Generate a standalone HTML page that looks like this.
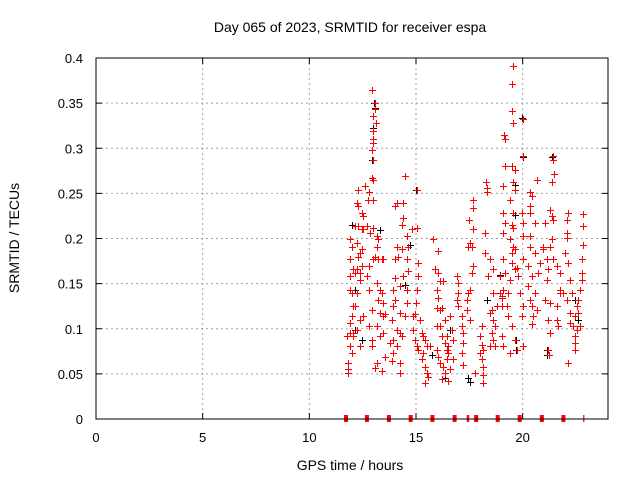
<!DOCTYPE html>
<html><head><meta charset="utf-8"><style>
body{margin:0;background:#fff;}
svg{display:block;font-family:"Liberation Sans",sans-serif;}
</style></head><body>
<svg id="chart" width="640" height="480" viewBox="0 0 640 480">
<rect width="640" height="480" fill="#fff"/>
<g id="grid"></g><g id="ticks"></g><g id="black"></g><g id="red"></g><g id="base"></g>
<rect x="96" y="58" width="512" height="361" fill="none" stroke="#000" stroke-width="1"/>
<text x="350" y="32" font-size="14" text-anchor="middle">Day 065 of 2023, SRMTID for receiver espa</text>
<text x="350" y="470" font-size="14" text-anchor="middle">GPS time / hours</text>
<text x="19" y="238" font-size="14" text-anchor="middle" transform="rotate(-90 19 238)">SRMTID / TECUs</text>
</svg>
<script>
const xTicks=[0,5,10,15,20];
const yTicks=[0,0.05,0.1,0.15,0.2,0.25,0.3,0.35,0.4];
const yTickLabels=["0","0.05","0.1","0.15","0.2","0.25","0.3","0.35","0.4"];
const redHours=[11.83,11.83,11.83,11.75,11.91,11.99,11.91,12.06,11.91,11.99,12.06,12.14,11.91,11.99,12.22,12.38,12.38,11.91,11.91,12.06,12.14,12.22,12.45,11.91,11.99,12.22,12.30,12.38,12.45,12.14,12.30,12.22,12.30,12.45,12.53,12.30,12.61,12.45,12.53,12.69,12.38,12.53,12.38,12.22,12.06,
12.92,13.08,13.08,12.97,13.13,13.0,12.97,13.0,12.94,13.0,12.92,13.0,12.81,12.97,12.77,12.84,13.0,13.16,13.24,12.81,12.97,13.08,13.24,13.16,13.39,13.47,13.16,13.31,13.39,13.24,13.47,13.31,13.47,13.55,13.16,13.31,13.47,12.92,12.81,12.92,12.92,13.16,13.08,13.39,13.55,12.69,12.81,
14.09,14.41,14.02,14.49,14.41,14.33,14.56,14.64,14.09,14.33,14.17,14.56,14.02,14.64,14.41,14.02,13.94,14.25,14.56,14.02,13.94,14.25,14.56,14.49,13.86,14.09,14.25,14.33,13.94,13.78,14.09,13.94,13.86,14.25,14.25,14.80,15.06,15.06,15.11,15.11,15.06,15.0,14.95,14.88,
14.88,14.95,15.03,15.11,15.19,15.27,15.34,15.42,15.5,15.34,15.27,15.42,15.5,15.58,15.42,15.66,15.81,16.05,15.89,16.05,16.13,15.97,16.05,15.97,16.13,16.2,15.97,16.13,16.2,15.97,16.05,16.13,16.28,16.36,16.2,16.36,16.44,16.52,16.52,16.44,16.44,16.6,16.36,16.28,
16.67,16.75,16.75,16.6,16.52,16.91,16.99,16.99,16.91,16.99,17.14,17.14,17.22,17.22,17.14,17.22,17.38,17.38,17.53,17.45,17.53,17.61,17.69,17.53,17.61,17.45,17.5,17.69,17.69,17.69,17.77,18.08,18.0,18.08,18.0,18.08,18.16,
18.16,18.16,18.16,18.24,18.24,18.31,18.31,18.28,18.47,18.63,18.39,18.55,18.47,18.63,18.7,18.55,18.63,18.47,18.7,18.78,18.94,19.02,19.1,18.94,19.1,19.17,19.02,19.02,19.1,19.02,18.63,
19.13,19.17,19.17,19.1,19.1,19.17,19.1,19.41,19.53,19.52,19.52,19.53,19.49,19.64,19.56,19.64,19.56,19.49,19.56,19.41,19.56,19.64,19.49,19.49,19.64,19.41,19.33,19.25,19.33,19.49,19.64,19.41,19.72,19.8,19.72,19.95,20.0,20.0,20.0,20.03,20.03,19.88,20.03,19.95,20.03,
20.35,20.42,20.35,20.35,20.66,20.58,20.35,20.35,20.58,20.81,20.27,20.42,20.27,20.58,20.35,20.42,20.66,20.5,20.42,20.74,20.97,21.13,21.05,21.2,21.13,21.05,21.28,21.2,21.28,21.2,21.25,20.97,
21.44,21.44,21.47,21.36,21.44,21.28,21.36,21.36,21.28,21.44,21.6,21.75,21.6,21.75,21.6,21.67,21.75,22.06,22.06,22.14,22.1,21.99,22.14,22.22,22.06,22.22,22.22,22.38,22.45,22.45,22.45,22.14,21.91,22.3,
22.84,22.84,22.81,22.77,22.77,22.77,22.69,22.61,22.53,22.61,22.53,22.45,22.69];
const redValues=[0.062,0.055,0.051,0.092,0.095,0.073,0.081,0.095,0.106,0.114,0.125,0.125,0.143,0.140,0.140,0.154,0.162,0.158,0.177,0.166,0.162,0.166,0.169,0.199,0.191,0.195,0.180,0.184,0.188,0.214,0.214,0.239,0.236,0.228,0.225,0.254,0.258,0.210,0.210,0.214,0.110,0.114,0.081,0.099,0.092,
0.365,0.350,0.343,0.336,0.328,0.319,0.310,0.306,0.298,0.287,0.267,0.265,0.251,0.243,0.243,0.206,0.212,0.203,0.199,0.169,0.177,0.180,0.177,0.191,0.177,0.177,0.151,0.143,0.140,0.132,0.129,0.117,0.114,0.116,0.103,0.092,0.095,0.121,0.103,0.088,0.081,0.062,0.057,0.053,0.069,0.158,0.143,
0.239,0.239,0.236,0.269,0.223,0.215,0.203,0.191,0.191,0.188,0.180,0.177,0.177,0.164,0.158,0.156,0.143,0.147,0.143,0.132,0.125,0.117,0.129,0.114,0.110,0.099,0.095,0.092,0.088,0.084,0.081,0.073,0.064,0.062,0.051,0.210,0.212,0.254,0.173,0.158,0.143,0.129,0.116,0.114,
0.099,0.088,0.081,0.077,0.110,0.095,0.092,0.088,0.081,0.073,0.066,0.058,0.051,0.047,0.040,0.081,0.199,0.186,0.166,0.162,0.153,0.143,0.134,0.123,0.121,0.123,0.103,0.103,0.092,0.077,0.069,0.062,0.058,0.051,0.044,0.084,0.077,0.081,0.073,0.066,0.092,0.114,0.110,0.153,
0.099,0.088,0.066,0.055,0.042,0.158,0.151,0.140,0.132,0.125,0.114,0.103,0.095,0.084,0.073,0.060,0.132,0.121,0.110,0.140,0.143,0.162,0.169,0.195,0.191,0.191,0.221,0.210,0.234,0.243,0.051,0.103,0.092,0.082,0.073,0.066,0.077,
0.058,0.049,0.040,0.206,0.184,0.256,0.251,0.263,0.177,0.166,0.158,0.121,0.117,0.110,0.103,0.095,0.088,0.081,0.081,0.125,0.140,0.134,0.143,0.158,0.177,0.162,0.125,0.092,0.081,0.136,0.140,
0.315,0.310,0.280,0.258,0.228,0.217,0.206,0.243,0.391,0.371,0.341,0.328,0.280,0.276,0.263,0.254,0.228,0.215,0.212,0.199,0.191,0.188,0.184,0.173,0.166,0.154,0.140,0.125,0.114,0.103,0.088,0.073,0.077,0.158,0.167,0.228,0.217,0.332,0.291,0.203,0.177,0.140,0.125,0.114,0.081,
0.251,0.247,0.228,0.236,0.265,0.217,0.203,0.191,0.184,0.173,0.169,0.158,0.147,0.140,0.132,0.125,0.121,0.114,0.105,0.162,0.188,0.177,0.217,0.166,0.154,0.132,0.129,0.110,0.095,0.077,0.071,0.191,
0.291,0.287,0.271,0.263,0.221,0.232,0.225,0.199,0.191,0.177,0.169,0.162,0.125,0.140,0.110,0.103,0.143,0.221,0.206,0.228,0.201,0.184,0.173,0.154,0.132,0.117,0.106,0.103,0.092,0.084,0.077,0.062,0.140,0.140,
0.227,0.214,0.193,0.177,0.162,0.154,0.143,0.132,0.125,0.117,0.099,0.114,0.103];
const blackHours=[13.03,13.08,12.99,12.94,19.97,20.02,21.38,19.64,19.64,21.14,21.14,19.69,19.69,17.44,17.53,16.36,12.0,12.14,12.14,14.72,15.0,14.49,16.6,22.46,22.6,17.53,18.33,18.94,13.31,15.75,12.47];
const blackValues=[0.350,0.345,0.322,0.287,0.334,0.290,0.290,0.259,0.226,0.076,0.071,0.088,0.076,0.045,0.041,0.045,0.215,0.143,0.099,0.193,0.254,0.148,0.099,0.132,0.110,0.143,0.132,0.160,0.209,0.071,0.088];
const baseHours=[11.72,12.70,13.73,14.75,15.77,16.81,17.82,18.83,19.86,20.90,21.91];
const thinBaseHours=[17.40,17.46,22.86];

const NS="http://www.w3.org/2000/svg";
const L=96,R=608,T=58,B=419;
function xs(h){return L+(h/24)*(R-L);}
function ys(v){return B-(v/0.4)*(B-T);}
function mk(tag,attrs,parent){const e=document.createElementNS(NS,tag);for(const k in attrs)e.setAttribute(k,attrs[k]);parent.appendChild(e);return e;}
const grid=document.getElementById('grid'),ticks=document.getElementById('ticks');
xTicks.forEach((t,i)=>{
  const x=xs(t);
  if(t>0){const g=mk('line',{x1:x,x2:x,y1:T,y2:B,stroke:'#a0a0a0','stroke-dasharray':'2,3','stroke-width':1},grid);
  
  }
  mk('line',{x1:x,x2:x,y1:B,y2:B-6,stroke:'#000'},ticks);
  mk('line',{x1:x,x2:x,y1:T,y2:T+6,stroke:'#000'},ticks);
  const tx=mk('text',{x:x,y:442,'font-size':13,'text-anchor':'middle'},ticks);
  tx.textContent=String(t);
  
  
});
yTicks.forEach((t,i)=>{
  const y=ys(t);
  if(t>0&&t<0.4){const g=mk('line',{x1:L,x2:R,y1:y,y2:y,stroke:'#a0a0a0','stroke-dasharray':'2,3','stroke-width':1},grid);
  
  }
  mk('line',{x1:L,x2:L+6,y1:y,y2:y,stroke:'#000'},ticks);
  mk('line',{x1:R,x2:R-6,y1:y,y2:y,stroke:'#000'},ticks);
  const tx=mk('text',{x:83,y:y+5,'font-size':13,'text-anchor':'end'},ticks);
  tx.textContent=yTickLabels[i];
  
  
});
function plus(h,v,color,parent,name){
  const x=Math.round(xs(h))+0.5,y=Math.round(ys(v))+0.5;
  const p=mk('path',{d:`M${x-3.5} ${y}H${x+3.5}M${x} ${y-3.5}V${y+3.5}`,stroke:color,'stroke-width':1,fill:'none'},parent);
  
  
}
const gb=document.getElementById('black'),gr=document.getElementById('red'),gbase=document.getElementById('base');
blackHours.forEach((h,i)=>plus(h,blackValues[i],'#000',gb,'srmtid-point-black'));
redHours.forEach((h,i)=>plus(h,redValues[i],'#ff0000',gr,'srmtid-point-red'));
baseHours.forEach(h=>{
  const r=mk('rect',{x:xs(h)-2,y:B-4,width:4,height:7,fill:'#ff0000'},gbase);
  
  
});
thinBaseHours.forEach(h=>{
  const r=mk('rect',{x:xs(h)-0.5,y:B-4,width:1.2,height:7,fill:'#ff0000'},gbase);
  
  
});
</script>
</body></html>
